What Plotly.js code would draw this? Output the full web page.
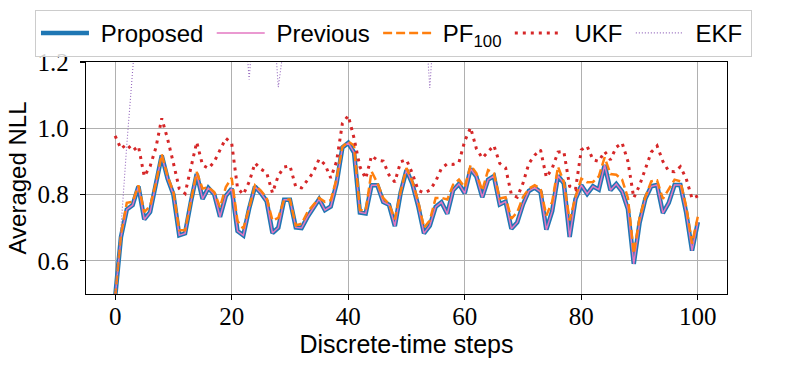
<!DOCTYPE html>
<html>
<head>
<meta charset="utf-8">
<script src="https://cdn.plot.ly/plotly-3.0.1.min.js"></script>
<style>html,body{margin:0;padding:0;background:#fff;}#chart{width:789px;height:371px;}</style>
</head>
<body>
<div id="chart"></div>
<script>
// Discrete-time steps 0..100
const steps = Array.from({length: 101}, (_, i) => i);

const proposed = [
  0.490, 0.672, 0.755, 0.768, 0.825, 0.725, 0.747, 0.830, 0.918, 0.848,
  0.800, 0.677, 0.683, 0.778, 0.862, 0.787, 0.820, 0.801, 0.733, 0.796,
  0.818, 0.690, 0.677, 0.758, 0.824, 0.805, 0.780, 0.684, 0.700, 0.784,
  0.784, 0.701, 0.699, 0.732, 0.760, 0.786, 0.753, 0.764, 0.833, 0.942,
  0.956, 0.927, 0.746, 0.743, 0.828, 0.828, 0.778, 0.769, 0.705, 0.806,
  0.874, 0.833, 0.766, 0.683, 0.706, 0.763, 0.777, 0.742, 0.813, 0.832,
  0.804, 0.878, 0.854, 0.792, 0.845, 0.856, 0.770, 0.779, 0.697, 0.716,
  0.771, 0.811, 0.821, 0.808, 0.694, 0.750, 0.857, 0.834, 0.672, 0.786,
  0.828, 0.802, 0.825, 0.815, 0.889, 0.813, 0.832, 0.809, 0.756, 0.591,
  0.715, 0.788, 0.825, 0.829, 0.744, 0.775, 0.829, 0.829, 0.745, 0.631,
  0.717
];

const previous = [
  0.490, 0.672, 0.755, 0.768, 0.825, 0.725, 0.747, 0.830, 0.918, 0.848,
  0.800, 0.677, 0.683, 0.778, 0.862, 0.787, 0.820, 0.801, 0.733, 0.796,
  0.818, 0.690, 0.677, 0.758, 0.824, 0.805, 0.780, 0.684, 0.700, 0.784,
  0.784, 0.701, 0.699, 0.732, 0.760, 0.786, 0.753, 0.764, 0.833, 0.942,
  0.956, 0.927, 0.746, 0.743, 0.828, 0.828, 0.778, 0.769, 0.705, 0.806,
  0.874, 0.833, 0.766, 0.683, 0.706, 0.763, 0.777, 0.742, 0.813, 0.832,
  0.804, 0.878, 0.854, 0.792, 0.845, 0.856, 0.770, 0.779, 0.697, 0.716,
  0.771, 0.811, 0.821, 0.808, 0.694, 0.750, 0.857, 0.834, 0.672, 0.786,
  0.828, 0.802, 0.825, 0.815, 0.889, 0.813, 0.832, 0.809, 0.756, 0.591,
  0.715, 0.788, 0.825, 0.829, 0.744, 0.775, 0.829, 0.829, 0.745, 0.631,
  0.717
];

const pf100 = [
  0.490, 0.680, 0.775, 0.778, 0.828, 0.747, 0.765, 0.835, 0.922, 0.855,
  0.808, 0.692, 0.692, 0.785, 0.868, 0.818, 0.822, 0.808, 0.762, 0.823,
  0.850, 0.720, 0.697, 0.760, 0.828, 0.812, 0.790, 0.722, 0.730, 0.785,
  0.785, 0.707, 0.712, 0.747, 0.768, 0.790, 0.778, 0.783, 0.848, 0.944,
  0.960, 0.948, 0.753, 0.752, 0.870, 0.835, 0.790, 0.772, 0.725, 0.810,
  0.880, 0.840, 0.780, 0.700, 0.722, 0.790, 0.790, 0.785, 0.830, 0.845,
  0.822, 0.889, 0.864, 0.812, 0.874, 0.864, 0.788, 0.792, 0.727, 0.747,
  0.793, 0.818, 0.828, 0.818, 0.737, 0.778, 0.884, 0.838, 0.722, 0.793,
  0.848, 0.837, 0.838, 0.855, 0.912, 0.862, 0.860, 0.845, 0.790, 0.622,
  0.730, 0.793, 0.840, 0.843, 0.787, 0.815, 0.845, 0.840, 0.764, 0.652,
  0.734
];

const ukf = [
  0.977, 0.938, 0.952, 0.932, 0.946, 0.855, 0.885, 0.942, 1.030, 0.968,
  0.895, 0.818, 0.803, 0.878, 0.958, 0.889, 0.879, 0.899, 0.935, 0.970,
  0.955, 0.820, 0.800, 0.838, 0.895, 0.877, 0.866, 0.805, 0.857, 0.883,
  0.887, 0.823, 0.820, 0.843, 0.867, 0.907, 0.891, 0.850, 0.900, 1.015,
  1.038, 0.970, 0.884, 0.848, 0.917, 0.904, 0.901, 0.859, 0.838, 0.899,
  0.905, 0.864, 0.813, 0.805, 0.813, 0.840, 0.879, 0.893, 0.891, 0.897,
  0.962, 1.002, 0.938, 0.910, 0.930, 0.948, 0.894, 0.881, 0.800, 0.792,
  0.835, 0.894, 0.919, 0.935, 0.852, 0.879, 0.928, 0.930, 0.825, 0.815,
  0.935, 0.946, 0.905, 0.900, 0.930, 0.905, 0.943, 0.956, 0.900, 0.790,
  0.828, 0.880, 0.928, 0.947, 0.900, 0.870, 0.869, 0.884, 0.848, 0.788,
  0.796
];

// EKF is mostly above the visible range (clipped at 1.2)
const ekf = [
  0.490, 0.700, 0.950, 1.170, 1.460, 1.620, 1.580, 1.700, 1.650, 1.560,
  1.610, 1.720, 1.680, 1.590, 1.540, 1.630, 1.600, 1.570, 1.650, 1.520,
  1.490, 1.450, 1.380, 1.147, 1.380, 1.450, 1.420, 1.380, 1.124, 1.290,
  1.440, 1.520, 1.560, 1.610, 1.580, 1.540, 1.600, 1.650, 1.570, 1.500,
  1.480, 1.530, 1.600, 1.640, 1.580, 1.550, 1.620, 1.590, 1.540, 1.500,
  1.470, 1.450, 1.420, 1.390, 1.122, 1.390, 1.460, 1.520, 1.580, 1.610,
  1.570, 1.540, 1.600, 1.630, 1.580, 1.550, 1.600, 1.640, 1.590, 1.560,
  1.620, 1.580, 1.540, 1.600, 1.650, 1.610, 1.570, 1.530, 1.590, 1.620,
  1.580, 1.550, 1.600, 1.640, 1.590, 1.560, 1.610, 1.580, 1.540, 1.600,
  1.650, 1.620, 1.570, 1.530, 1.590, 1.610, 1.580, 1.550, 1.600, 1.630,
  1.590
];

const xTicks = [0, 20, 40, 60, 80, 100];
const yTicks = [0.6, 0.8, 1.0, 1.2];
const yTickText = ['0.6', '0.8', '1.0', '1.2'];
const seriesNames = ['Proposed', 'Previous', 'PF<sub>100</sub>', 'UKF', 'EKF'];

const SANS = 'Liberation Sans, Arial, sans-serif';
const SERIF = 'Liberation Serif, Times New Roman, serif';
const NB = '\u00A0';
const pad = s => NB + s + '<span style="font-size:12px">' + NB + '</span>';

const traces = [
  {x: steps, y: proposed, name: pad(seriesNames[0]), mode: 'lines',
   line: {color: '#1f77b4', width: 4.5}},
  {x: steps, y: previous, name: pad(seriesNames[1]), mode: 'lines',
   line: {color: '#e377c2', width: 1.5}},
  {x: steps, y: pf100, name: pad(seriesNames[2]), mode: 'lines',
   line: {color: '#ff7f0e', width: 2.5, dash: '9px,4px'}},
  {x: steps, y: ukf, name: pad(seriesNames[3]), mode: 'lines',
   line: {color: '#d62728', width: 3, dash: '3px,5px'}},
  {x: steps, y: ekf, name: pad(seriesNames[4]), mode: 'lines',
   line: {color: '#9467bd', width: 1.1, dash: '1px,2px'}}
];

const layout = {
  width: 789, height: 371,
  margin: {l: 86, r: 62, t: 62, b: 77, pad: 0, autoexpand: false},
  paper_bgcolor: '#ffffff', plot_bgcolor: '#ffffff',
  showlegend: true,
  hovermode: false,
  legend: {
    orientation: 'h',
    xref: 'paper', yref: 'paper',
    x: -0.0796, xanchor: 'left',
    y: 1.225, yanchor: 'top',
    bgcolor: 'rgba(255,255,255,0.82)',
    bordercolor: '#cccccc', borderwidth: 1,
    font: {family: SANS, size: 24, color: '#000'},
    itemwidth: 48,
    tracegroupgap: 0
  },
  xaxis: {
    range: [-5, 105],
    tickvals: xTicks,
    ticktext: xTicks.map(String),
    tickfont: {family: SERIF, size: 25, color: '#000'},
    ticklabelstandoff: -5,
    showgrid: true, gridcolor: '#b0b0b0', gridwidth: 1.1,
    zeroline: false,
    showline: true, mirror: true, linecolor: '#000', linewidth: 1.2,
    ticks: 'outside', ticklen: 5, tickwidth: 1.1, tickcolor: '#000',
    title: {text: 'Discrete-time steps', font: {family: SANS, size: 25, color: '#000'}, standoff: 4}
  },
  yaxis: {
    range: [0.5, 1.2],
    tickvals: yTicks,
    ticktext: yTickText,
    tickfont: {family: SERIF, size: 25, color: '#000'},
    ticklabelstandoff: 6,
    showgrid: true, gridcolor: '#b0b0b0', gridwidth: 1.1,
    zeroline: false,
    showline: true, mirror: true, linecolor: '#000', linewidth: 1.2,
    ticks: 'outside', ticklen: 5, tickwidth: 1.1, tickcolor: '#000',
    title: {text: 'Averaged NLL', font: {family: SANS, size: 24, color: '#000'}, standoff: 4}
  }
};

Plotly.newPlot('chart', traces, layout, {staticPlot: true, displayModeBar: false});
</script>
</body>
</html>
